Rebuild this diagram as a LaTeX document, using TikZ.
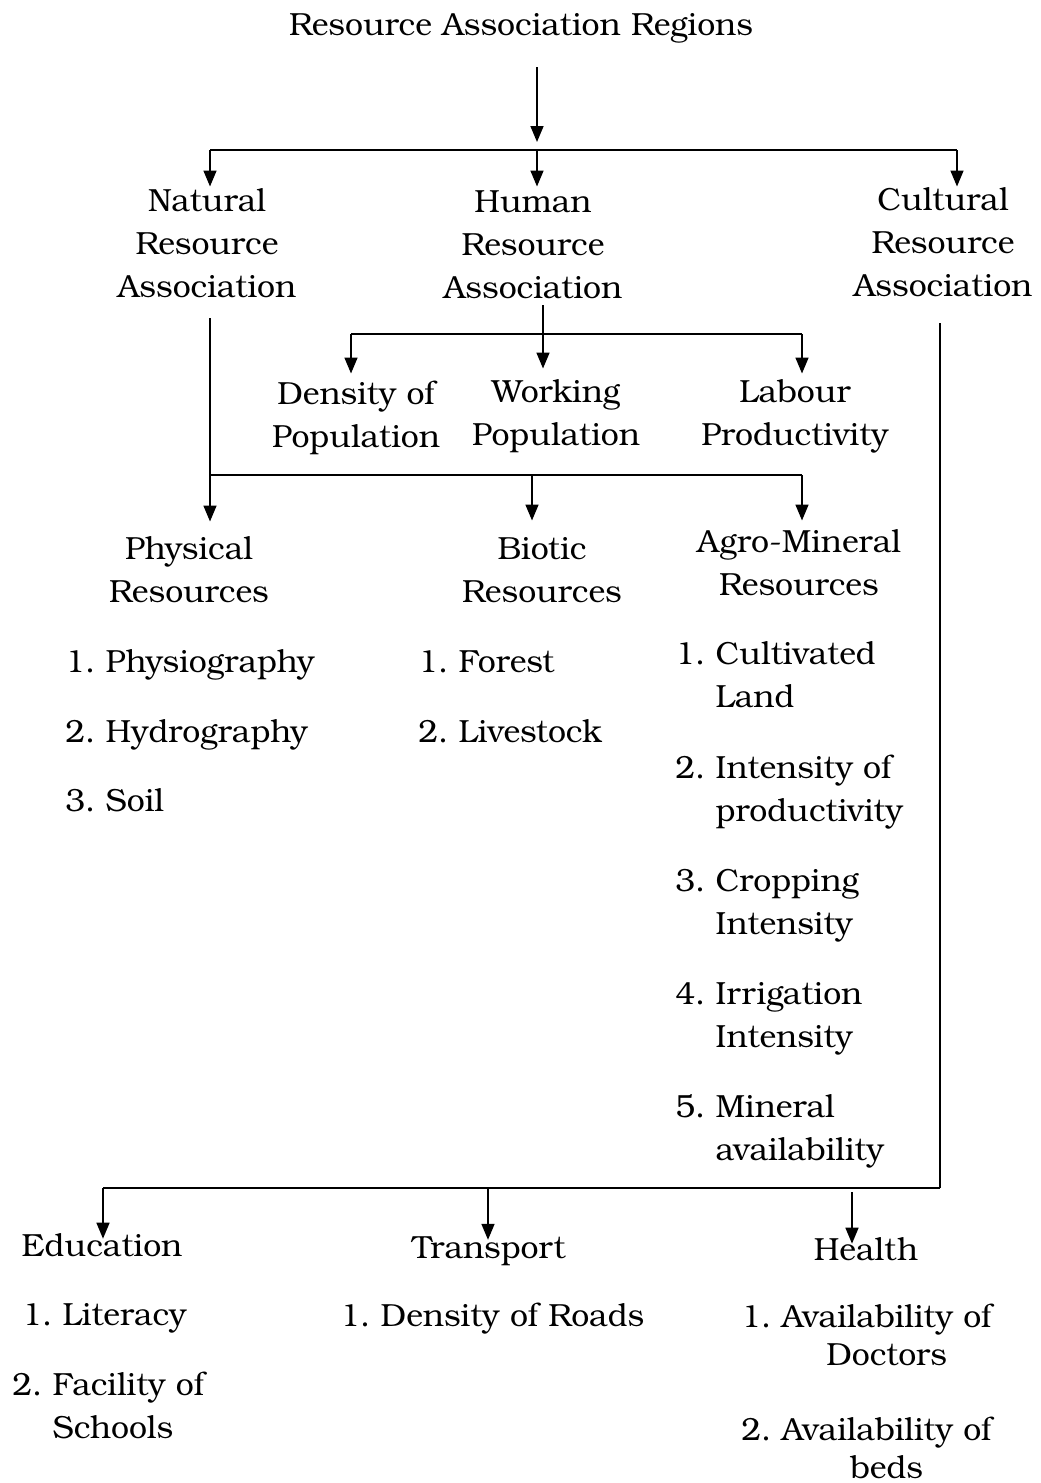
\documentclass[tikz,border=0pt]{standalone}
\usepackage{fontspec}
\setmainfont{TeX Gyre Bonum}
\usepackage{tikz}
\usetikzlibrary{arrows.meta}

\newcommand{\cstack}[1]{\begin{tabular}[t]{@{}c@{}}#1\end{tabular}}
\newcommand{\litem}[2]{#1.~\begin{tabular}[t]{@{}l@{}}#2\end{tabular}}

\begin{document}
\begin{tikzpicture}[x=0.5pt,y=-0.5pt,
    lbl/.style={inner sep=2.5pt,anchor=base,font=\fontsize{16}{21.5}\selectfont\frenchspacing},
    itm/.style={lbl,inner sep=0pt,anchor=base west},
    arr/.style={-{Triangle[width=6.5pt,length=8pt]},line width=0.8pt},
    bar/.style={line width=1.2pt},
    stem/.style={line width=0.8pt}]
    \useasboundingbox (0,0) rectangle (1040,1483);

    % headings
    \node[lbl] (title) at (521,35) {Resource Association Regions};
    \node[lbl] (natural) at (207,211) {\cstack{Natural\\Resource\\Association}};
    \node[lbl] (human) at (533,212) {\cstack{Human\\Resource\\Association}};
    \node[lbl] (cultural) at (943,210) {\cstack{Cultural\\Resource\\Association}};

    \node[lbl] (density) at (356,404) {\cstack{Density of\\Population}};
    \node[lbl] (working) at (556,402) {\cstack{Working\\Population}};
    \node[lbl] (labour) at (795,402) {\cstack{Labour\\Productivity}};

    \node[lbl] (physical) at (189,559) {\cstack{Physical\\Resources}};
    \node[lbl] (biotic) at (542,559) {\cstack{Biotic\\Resources}};
    \node[lbl] (agro) at (799,552) {\cstack{Agro-Mineral\\Resources}};

    \node[lbl] (education) at (102,1256) {Education};
    \node[lbl] (transport) at (489,1258) {Transport};
    \node[lbl] (health) at (866,1260) {Health};

    % lists
    \node[itm] (phys1) at (65,672) {1. Physiography};
    \node[itm] (phys2) at (65,742) {2. Hydrography};
    \node[itm] (phys3) at (65,811) {3. Soil};

    \node[itm] (bio1) at (418,672) {1. Forest};
    \node[itm] (bio2) at (418,742) {2. Livestock};

    \node[itm] (agro1) at (675,664) {\litem{1}{Cultivated\\Land}};
    \node[itm] (agro2) at (675,778) {\litem{2}{Intensity of\\productivity}};
    \node[itm] (agro3) at (675,891) {\litem{3}{Cropping\\Intensity}};
    \node[itm] (agro4) at (675,1004) {\litem{4}{Irrigation\\Intensity}};
    \node[itm] (agro5) at (675,1117) {\litem{5}{Mineral\\availability}};

    \node[itm] (edu1) at (22,1325) {1. Literacy};
    \node[itm] (edu2) at (12,1395) {\litem{2}{Facility of\\Schools}};
    \node[itm] (trans1) at (340,1326) {1. Density of Roads};
    \node[itm] (health1) at (741,1327) {1.~\cstack{Availability of\\[-2.5pt]Doctors}};
    \node[itm] (health2) at (741,1440) {2.~\cstack{Availability of\\[-2.5pt]beds}};

    % junctions
    \coordinate (topbar) at (537,150);
    \coordinate (natbar) at (210,150);
    \coordinate (culbar) at (957,150);
    \coordinate (hbar) at (543,334);
    \coordinate (densbar) at (351,334);
    \coordinate (labbar) at (802,334);
    \coordinate (nbar) at (210,475);
    \coordinate (bbar) at (532,475);
    \coordinate (abar) at (802,475);
    \coordinate (cbar) at (940,1188);
    \coordinate (ebar) at (103,1188);
    \coordinate (tbar) at (488,1188);
    \coordinate (hlbar) at (852,1188);

    % top level
    \draw[arr,shorten <=9.5pt,shorten >=4pt] (title.south -| topbar) -- (topbar);
    \draw[bar] (natbar) -- (culbar);
    \draw[arr,shorten >=-5.5pt] (natbar) -- (natbar |- natural.north);
    \draw[arr,shorten >=-5pt] (topbar) -- (topbar |- human.north);
    \draw[arr,shorten >=-6pt] (culbar) -- (culbar |- cultural.north);

    % human
    \draw[stem,shorten <=-5.5pt] (human.south -| hbar) -- (hbar);
    \draw[bar] (densbar) -- (labbar);
    \draw[arr,shorten >=-2.5pt] (densbar) -- (densbar |- density.north);
    \draw[arr,shorten >=-1pt] (hbar) -- (hbar |- working.north);
    \draw[arr,shorten >=-3.5pt] (labbar) -- (labbar |- labour.north);

    % natural
    \draw[stem,shorten <=1.5pt] (natural.south -| nbar) -- (nbar);
    \draw[bar] (nbar) -- (abar);
    \draw[arr,shorten >=1pt] (nbar) -- (nbar |- physical.north);
    \draw[arr,shorten >=1.5pt] (bbar) -- (bbar |- biotic.north);
    \draw[arr,shorten >=-2pt] (abar) -- (abar |- agro.north);

    % cultural
    \draw[stem,shorten <=4.5pt] (cultural.south -| cbar) -- (cbar);
    \draw[bar] (cbar) -- (ebar);
    \draw[arr,shorten >=-5.5pt] (ebar) -- (ebar |- education.north);
    \draw[arr,shorten >=-4.5pt] (tbar) -- (tbar |- transport.north);
    \draw[arr,shorten <=2pt,shorten >=-6pt] (hlbar) -- (hlbar |- health.north);
\end{tikzpicture}
\end{document}
